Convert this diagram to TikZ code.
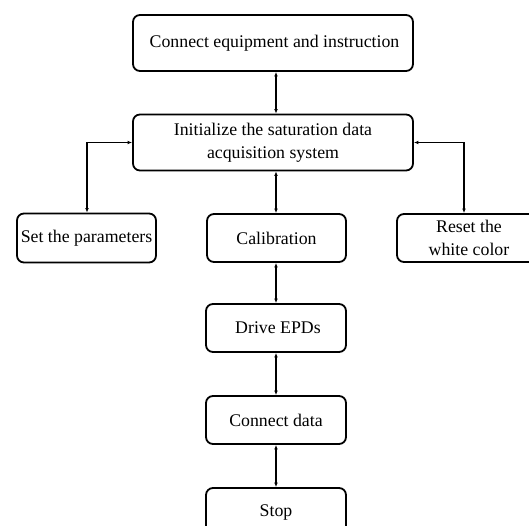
\documentclass[tikz,border=0pt]{standalone}
\usepackage{fontspec}
\setmainfont{Liberation Serif}
\usetikzlibrary{arrows.meta}
\begin{document}
\begin{tikzpicture}[x=1pt,y=-1pt,
  box/.style={draw, line width=1.8pt, rounded corners=7pt, align=center, inner sep=0pt, font=\fontsize{17.8}{22.5}\selectfont},
  link/.style={line width=1.3pt, {Latex[length=4.5pt,width=3.8pt]}-{Latex[length=4.5pt,width=3.8pt]}}]
\useasboundingbox (0,0) rectangle (529,526);
\clip (0,0) rectangle (529,526);
\node[box, minimum width=280pt, minimum height=56pt] (top) at (273,43) {\hspace{3pt}Connect equipment and instruction};
\node[box, minimum width=280pt, minimum height=56pt] (init) at (273,142.5) {Initialize the saturation data\\acquisition system};
\node[box, minimum width=139pt, minimum height=49pt] (set) at (86.5,238) {Set the parameters};
\node[box, minimum width=139pt, minimum height=48pt] (cal) at (276.5,238) {Calibration};
\node[box, minimum width=144pt, minimum height=48pt] (reset) at (469,238) {Reset the\\white color};
\node[box, minimum width=140pt, minimum height=48pt] (drive) at (276,328) {\hspace{4pt}Drive EPDs};
\node[box, minimum width=140pt, minimum height=48pt] (cdata) at (276,420) {Connect data};
\node[box, minimum width=140pt, minimum height=48pt] (stop) at (276,512) {Stop};
\coordinate (spine) at (276,0);
\coordinate (lcol) at (87,0);
\coordinate (rcol) at (464,0);
\draw[link] (top.south -| spine) -- (init.north -| spine);
\draw[link] (init.south -| spine) -- (cal.north -| spine);
\draw[link] (cal.south -| spine) -- (drive.north -| spine);
\draw[link] (drive.south -| spine) -- (cdata.north -| spine);
\draw[link] (cdata.south -| spine) -- (stop.north -| spine);
\draw[link] (init.west) -- (init.west -| lcol) -- (set.north -| lcol);
\draw[link] (init.east) -- (init.east -| rcol) -- (reset.north -| rcol);
\end{tikzpicture}
\end{document}
